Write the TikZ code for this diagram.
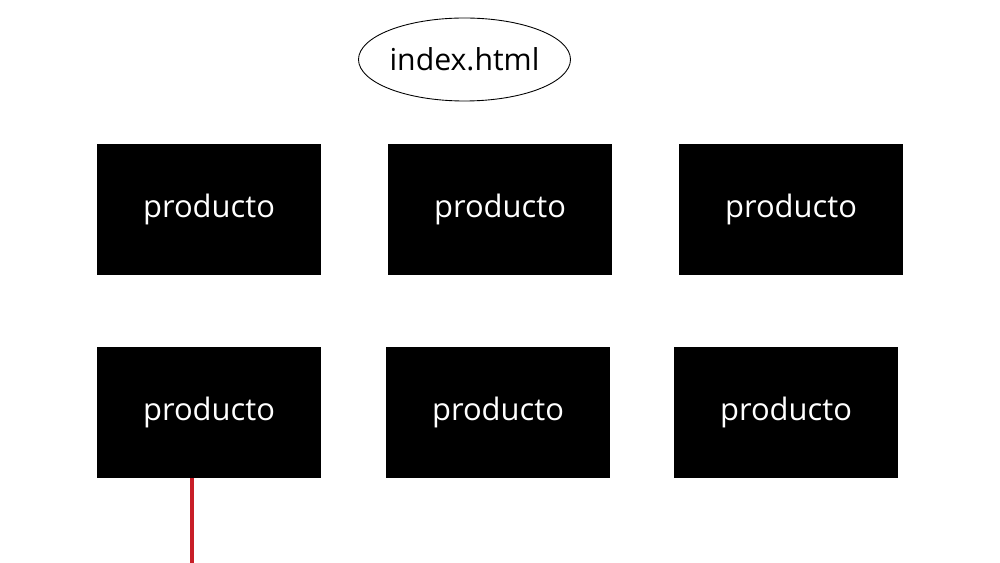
\documentclass[tikz,border=0pt]{standalone}
\usepackage{fontspec}
\setmainfont{Open Sans}
\usetikzlibrary{shapes.geometric}
\definecolor{linered}{RGB}{200,30,40}
\begin{document}
\begin{tikzpicture}[x=0.02cm,y=-0.02cm,
  prodbox/.style={fill=black,text=white,minimum width=224*0.02cm,minimum height=131*0.02cm,inner sep=0pt,font=\fontsize{17.6}{20}\selectfont},
  rootnode/.style={ellipse,draw=black,line width=0.5pt,minimum width=207*0.02cm,minimum height=83*0.02cm,inner sep=0pt,font=\fontsize{17.2}{20}\selectfont}]
\useasboundingbox (0,0) rectangle (1000,563);
\fill[white] (0,0) rectangle (1000,563);
\node[rootnode] (root) at (464.5,59.5) {index.html};
\node[prodbox] (p1) at (209,209.5) {producto};
\node[prodbox] (p2) at (500,209.5) {producto};
\node[prodbox] (p3) at (791,209.5) {producto};
\node[prodbox] (p4) at (209,412.5) {producto};
\node[prodbox] (p5) at (498,412.5) {producto};
\node[prodbox] (p6) at (786,412.5) {producto};
\coordinate (end) at (192,563);
\draw[linered,line width=2.2pt] (p4.south -| end) -- (end);
\end{tikzpicture}
\end{document}
